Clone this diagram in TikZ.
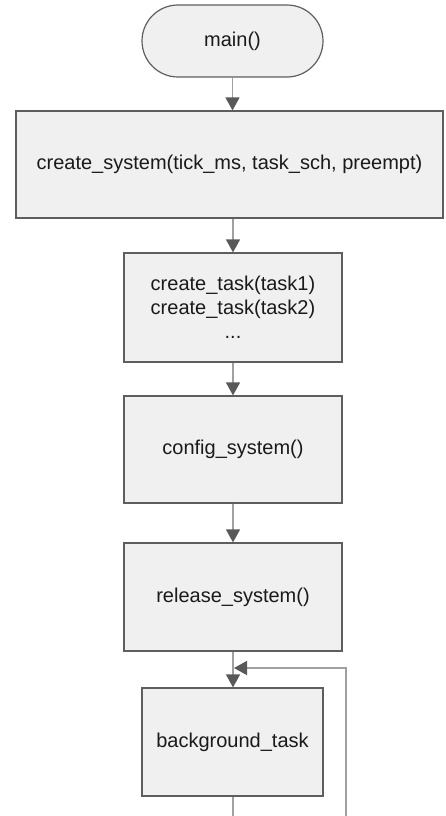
\documentclass[tikz,border=0pt]{standalone}
\usepackage{fontspec}
\setmainfont{Liberation Sans}
\usetikzlibrary{arrows.meta}
\definecolor{boxfill}{HTML}{F0F0F0}
\definecolor{boxline}{HTML}{5E5E5E}
\definecolor{connline}{HTML}{A0A0A0}
\definecolor{tipcol}{HTML}{595959}
\definecolor{textcol}{HTML}{1A1A1A}
\tikzset{
  flowbox/.style={draw=boxline, fill=boxfill, line width=1.2pt, rectangle, inner sep=0pt, align=center,
    text=textcol, font=\fontsize{20}{24}\selectfont},
  termbox/.style={flowbox, rounded corners=36pt},
  conn/.style={draw=connline, line width=1.4pt},
  flowarrow/.style={conn, -{Triangle[length=13pt, width=14pt, color=tipcol, fill=tipcol]}}
}
\begin{document}
\begin{tikzpicture}[x=1pt, y=-1pt]
\useasboundingbox (0,0) rectangle (445,816);
\node[termbox, minimum width=181pt, minimum height=72pt] (main) at (232.5,41) {main()};
\node[flowbox, minimum width=427pt, minimum height=107pt] (sys) at (229.5,164.5) {create\_system(tick\_ms, task\_sch, preempt)};
\node[flowbox, minimum width=218pt, minimum height=109pt] (tasks) at (233,307.5) {create\_task(task1)\\create\_task(task2)\\...};
\node[flowbox, minimum width=218pt, minimum height=107pt] (cfg) at (233,449.5) {config\_system()};
\node[flowbox, minimum width=218pt, minimum height=108pt] (rel) at (233,597) {release\_system()};
\node[flowbox, minimum width=181pt, minimum height=108pt] (bg) at (232.5,742) {background\_task};
\coordinate (bottomout) at (233,816);
\coordinate (loopstart) at (346,816);
\coordinate (loopcorner) at (346,668);
\coordinate (loopend) at (234,668);
\draw[flowarrow] (main.south) -- (main.south |- sys.north);
\draw[flowarrow] (tasks.north |- sys.south) -- (tasks.north);
\draw[flowarrow] (tasks.south) -- (cfg.north);
\draw[flowarrow] (cfg.south) -- (rel.north);
\draw[flowarrow] (rel.south) -- (bg.north -| rel.south);
\draw[conn] (bg.south -| bottomout) -- (bottomout);
\draw[flowarrow] (loopstart) -- (loopcorner) -- (loopend);
\end{tikzpicture}
\end{document}
